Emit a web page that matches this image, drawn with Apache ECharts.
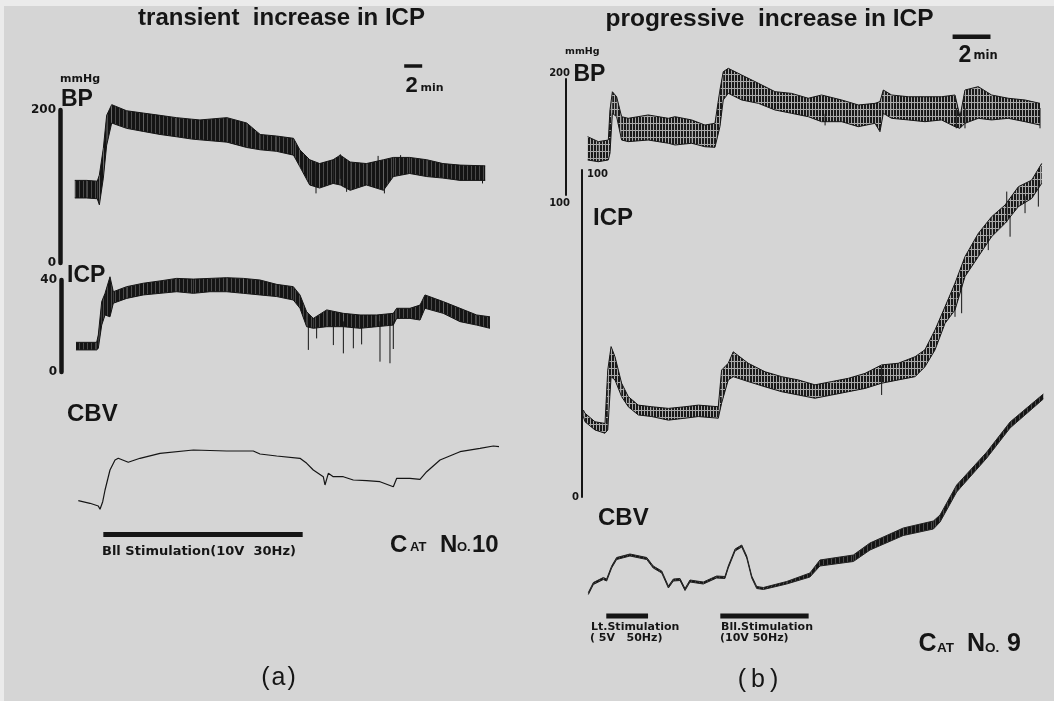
<!DOCTYPE html>
<html>
<head>
<meta charset="utf-8">
<title>transient / progressive increase in ICP</title>
<style>
    html, body {margin: 0; padding: 0; background: #d6d6d6;}
    #main {width: 1054px; height: 701px;}
</style>
<script src="https://cdn.jsdelivr.net/npm/echarts@6/dist/echarts.min.js"></script>
</head>
<body>
<div id="main"></div>
<script>
// ---------- (a) transient increase in ICP, Cat No.10  (time in min) ----------
var bpA_t  = [0.2, 1.5, 2.7, 2.93, 3.37, 3.74, 4.3, 5.96, 7.8, 9.67, 11.5, 13.2, 14.1, 17.1, 19.3, 20.8, 22.6, 24.5, 25.2, 26.3, 27.4, 28.9, 29.7, 30.8, 32.6, 34.5, 35.6, 37.4, 39.3, 41.1, 43.0, 45.8];
var bpA_hi = [108, 108, 107, 115, 150, 193, 207, 199, 196, 193, 190, 188, 187, 190, 183, 168, 166, 163, 148, 135, 130, 135, 141, 132, 130, 135, 138, 138, 135, 130, 128, 127];
var bpA_lo = [85, 85, 84, 76, 111, 154, 183, 176, 172, 168, 165, 162, 161, 158, 151, 148, 146, 141, 126, 102, 98, 104, 102, 95, 102, 95, 113, 117, 113, 111, 108, 108];
var bpA_spikes = [[27.0, 130, 91], [30.4, 132, 93], [34.6, 135, 91], [45.5, 127, 104], [29.7, 142, 110], [33.9, 140, 110], [36.4, 141, 115]];

var icpA_t  = [0.33, 2.63, 2.81, 3.19, 3.56, 4.11, 4.48, 5.96, 7.81, 9.67, 11.52, 13.37, 15.22, 17.07, 18.93, 20.78, 22.63, 24.48, 25.22, 25.96, 26.7, 28.19, 30.04, 31.89, 33.74, 35.59, 35.96, 37.44, 38.56, 39.11, 41.14, 43.0, 44.85, 46.33];
var icpA_hi = [12.9, 12.9, 16.1, 30.6, 34.2, 41.4, 34.9, 37.1, 38.6, 39.6, 40.7, 40.4, 40.7, 41, 40.7, 40, 38.1, 37.1, 33.5, 26.2, 23.3, 27, 25.5, 24.8, 24.8, 25.5, 27.7, 27.7, 29.1, 33.5, 30.6, 27.7, 24.8, 24];
var icpA_lo = [9.6, 9.6, 10.3, 20.4, 24.8, 24, 29.9, 32, 33.5, 34.2, 34.9, 34.2, 34.9, 34.9, 34.2, 33.5, 32.8, 31.3, 27.7, 19.7, 19, 19.7, 19.7, 19, 19.7, 20.4, 23.3, 23.3, 22.6, 27.7, 25.5, 21.9, 20.4, 19];
var icpA_spikes = [[26.15, 24, 9.6], [27.07, 23, 14.6], [28.93, 22, 11.7], [30.04, 22, 8.1], [31.15, 22, 10.3], [32.07, 22, 12], [34.11, 22, 4.5], [35.22, 22, 3.8], [35.59, 22, 10]];

var cbvA_t = [0.59, 1.89, 2.81, 3.0, 3.3, 3.56, 4.11, 4.67, 5.03, 6.14, 7.44, 9.67, 13.37, 17.08, 20.03, 20.78, 22.63, 25.22, 25.97, 26.7, 27.81, 28.0, 28.37, 28.92, 30.03, 31.14, 32.63, 34.11, 35.59, 35.97, 37.44, 38.56, 39.3, 40.78, 43.0, 45.22, 46.7, 47.33];
var cbvA_v = [19.3, 16.7, 14, 10.7, 18.3, 30, 50, 60, 61.7, 57.7, 61.7, 66.7, 70, 69, 69, 66, 64, 61.7, 56.7, 50, 43.3, 35, 46.7, 43.3, 43.3, 40, 39.3, 38.3, 33.3, 41.7, 41.7, 40.7, 48.3, 60, 68.3, 71.7, 74, 73.3];

var scaleA = [[36.8, 257.5], [38.8, 257.5]];          // 2 min bar, on BP axis
var stimA  = [[3.37, -14.5], [25.52, -14.5]];         // Bll stimulation, on CBV axis

// ---------- (b) progressive increase in ICP, Cat No.9 ----------
var bpB_t  = [0.25, 0.83, 1.37, 1.46, 1.59, 1.82, 2.09, 2.45, 3.53, 4.62, 4.98, 5.88, 6.6, 7.14, 7.41, 7.59, 7.86, 8.59, 9.49, 10.39, 11.29, 12.19, 12.91, 14, 14.9, 15.8, 16.07, 16.25, 16.7, 17.6, 18.5, 19.4, 20.13, 20.4, 20.67, 21.39, 22.11, 23.01, 23.92, 24.73];
var bpB_hi = [150.3, 146, 147.4, 173.3, 189, 184.7, 167.5, 166.1, 169, 166.1, 167.5, 164.7, 160.3, 161.8, 190.5, 206.3, 209.2, 203.4, 196.3, 189.1, 187.6, 183.4, 186.2, 181.9, 177.6, 179, 180.5, 190.5, 186.2, 184.7, 184.7, 184.7, 186.2, 167.5, 190.5, 193.4, 186.2, 183.4, 181.9, 179];
var bpB_lo = [130.2, 128.7, 130.2, 136, 170.4, 167.5, 147.4, 146, 147.4, 144.6, 143.1, 144.6, 141.6, 141.1, 158.9, 181.9, 187.7, 181.9, 179, 173.3, 170.4, 167.5, 163.2, 163.2, 158.9, 161.8, 154.6, 170.4, 166.1, 164.7, 163.2, 164.7, 158.9, 157.5, 161.8, 166.1, 164.7, 166.1, 163.2, 160.3];
var bpB_spikes = [[20.2, 175, 157.5], [20.67, 175, 157.5], [24.73, 175, 157.5], [13.1, 170, 160]];

var icpB_t  = [0.02, 0.11, 0.65, 1.19, 1.34, 1.52, 1.73, 2.09, 2.45, 2.99, 3.72, 4.62, 5.52, 6.24, 7.32, 7.5, 7.86, 8.13, 8.94, 9.85, 10.75, 11.65, 12.55, 13.46, 14.36, 15.26, 16.16, 17.06, 17.97, 18.5, 19.05, 19.59, 20.13, 20.67, 21.39, 22.11, 22.84, 23.56, 24.28, 24.82];
var icpB_hi = [26.6, 25.6, 23, 22.5, 38.8, 46, 42.9, 34.8, 30.7, 28.1, 27.6, 27.1, 27.6, 28.1, 27.6, 38.8, 40.9, 44.4, 40.9, 38.3, 36.8, 35.8, 34.3, 35.3, 36.3, 37.8, 40.4, 40.9, 42.9, 45, 51.1, 58.2, 65.4, 73.5, 80.6, 85.7, 89.3, 94.9, 96.9, 102];
var icpB_lo = [24.6, 23, 20.5, 19.5, 20.5, 36.8, 35.8, 30.7, 27.6, 25.1, 24.6, 23.5, 24.1, 24.6, 24.1, 28.7, 35.8, 36.8, 35.3, 33.7, 32.2, 31.2, 30.2, 31.2, 32.2, 33.2, 34.8, 35.8, 36.8, 39.8, 45, 53.1, 57.2, 67.4, 73.5, 79.6, 83.7, 88.8, 91.3, 95.9];
var icpB_spikes = [[16.16, 40, 31.2], [20.13, 62, 55.1], [20.49, 68.9, 56.2], [21.93, 80, 75.5], [22.93, 93.4, 84], [23.11, 86, 79.6], [23.92, 92, 86.8], [24.64, 97, 88.8]];

var cbvB_t  = [0.29, 0.56, 1.1, 1.28, 1.55, 1.82, 2.54, 3.45, 3.8, 4.26, 4.62, 4.89, 5.25, 5.52, 5.79, 6.51, 7.23, 7.68, 7.86, 8.23, 8.59, 8.86, 9.13, 9.4, 9.76, 11.02, 12.28, 12.82, 14.63, 15.53, 17.33, 18.96, 19.32, 20.22, 21.85, 23.11, 24.91];
var cbvB_hi = [7.5, 17.5, 22.5, 21, 34, 42.5, 46, 42.5, 34, 29, 14, 21, 21.5, 11.5, 20, 18, 24, 23.5, 34, 51, 55, 44, 24, 13.5, 12.5, 18.5, 27, 40, 45, 57, 72, 79, 85, 115, 148, 178, 206];
var cbvB_lo = [5.5, 15.5, 20.5, 19, 32, 40.5, 44, 40.5, 32, 27, 12, 19, 19.5, 9.5, 18, 16, 22, 21.5, 32, 49, 53, 42, 22, 11.5, 10.5, 16, 23, 34, 38.5, 50, 64.5, 71, 78, 108, 142, 172, 201];

var scaleB  = [[20.0, 236.5], [22.05, 236.5]];
var stimLt  = [[1.26, -16], [3.52, -16]];
var stimBll = [[7.43, -16], [12.21, -16]];


function zip2(t, v) {
    var out = [];
    for (var i = 0; i < t.length; i++) out.push([t[i], v[i]]);
    return out;
}
function zip3(t, hi, lo) {
    var out = [];
    for (var i = 0; i < t.length; i++) out.push([t[i], hi[i], lo[i]]);
    return out;
}

var ink = '#151515';
var sans = "'Liberation Sans', Arial, sans-serif";
var dejavu = "'DejaVu Sans', sans-serif";

// vertical hatch, looks like the pen strokes of a pulsatile recording
function hatch(w, h, dark, light, gapRow) {
    var c = document.createElement('canvas');
    c.width = w;
    c.height = h;
    var ctx = c.getContext('2d');
    ctx.fillStyle = light;
    ctx.fillRect(0, 0, w, h);
    ctx.fillStyle = dark;
    ctx.fillRect(0, 0, w - 1, h);
    if (gapRow) {
        ctx.fillStyle = light;
        ctx.fillRect(0, gapRow, w - 1, 1);
    }
    return {image: c, repeat: 'repeat'};
}
var denseInk = hatch(4, 8, '#141414', '#4a4a4a', 0);
var openInk = hatch(3, 7, '#1a1a1a', '#a8a8a8', 4);

// filled band between the upper and lower envelope of a trace
function band(fill, edge) {
    return function (params, api) {
        var i = params.dataIndexInside;
        if (i >= params.dataInsideLength - 1) {
            return {type: 'group', children: []};
        }
        var p1 = api.coord([api.value(0, i), api.value(1, i)]);
        var p2 = api.coord([api.value(0, i + 1), api.value(1, i + 1)]);
        var p3 = api.coord([api.value(0, i + 1), api.value(2, i + 1)]);
        var p4 = api.coord([api.value(0, i), api.value(2, i)]);
        return {
            type: 'group',
            children: [
                {type: 'polygon', shape: {points: [p1, p2, p3, p4]}, style: {fill: fill}},
                {type: 'polyline', shape: {points: [p1, p2]}, style: {stroke: edge, lineWidth: 1, fill: null}},
                {type: 'polyline', shape: {points: [p4, p3]}, style: {stroke: edge, lineWidth: 1, fill: null}}
            ]
        };
    };
}
function spike(params, api) {
    var a = api.coord([api.value(0), api.value(1)]);
    var b = api.coord([api.value(0), api.value(2)]);
    return {
        type: 'line',
        shape: {x1: a[0], y1: a[1], x2: b[0], y2: b[1]},
        style: {stroke: ink, lineWidth: 1}
    };
}

function hiddenX(grid, max) {
    return {type: 'value', gridIndex: grid, min: 0, max: max, show: false};
}
function calLabel(size, margin) {
    return {margin: margin, color: ink, fontFamily: dejavu, fontWeight: 'bold', fontSize: size};
}
function txt(x, y, text, font, align) {
    return {
        type: 'text', x: x, y: y, silent: true,
        style: {text: text, font: font, fill: ink, align: align || 'left', verticalAlign: 'middle'}
    };
}

var dom = document.getElementById("main");
var myChart = echarts.init(dom, null, {renderer: 'canvas'});
option = {
    backgroundColor: '#d5d5d5',
    animation: false,
    grid: [
        {left: 73, top: 110, width: 427.5, height: 153},    // BP (a)
        {left: 73, top: 280, width: 427.5, height: 92},     // ICP (a)
        {left: 73, top: 440, width: 427.5, height: 80},     // CBV (a)
        {left: 583, top: 79, width: 462, height: 116},      // BP (b)
        {left: 583, top: 170, width: 462, height: 327},     // ICP (b)
        {left: 583, top: 380, width: 462, height: 220}      // CBV (b)
    ],
    xAxis: [hiddenX(0, 47.5), hiddenX(1, 47.5), hiddenX(2, 47.5), hiddenX(3, 25), hiddenX(4, 25), hiddenX(5, 25)],
    yAxis: [
        {
            type: 'value', gridIndex: 0, min: 0, max: 200, interval: 200, offset: 13, position: 'left',
            axisLine: {show: true, onZero: false, lineStyle: {color: ink, width: 4.5}},
            axisTick: {show: false}, splitLine: {show: false},
            axisLabel: calLabel(12, 4)
        },
        {
            type: 'value', gridIndex: 1, min: 0, max: 40, interval: 40, offset: 12, position: 'left',
            axisLine: {show: true, onZero: false, lineStyle: {color: ink, width: 4.5}},
            axisTick: {show: false}, splitLine: {show: false},
            axisLabel: calLabel(12, 4)
        },
        {type: 'value', gridIndex: 2, min: 0, max: 80, show: false},
        {
            type: 'value', gridIndex: 3, min: 100, max: 200, interval: 100, offset: 17, position: 'left',
            axisLine: {show: true, onZero: false, lineStyle: {color: ink, width: 2}},
            axisTick: {show: false}, splitLine: {show: false},
            axisLabel: {
                margin: -4,
                formatter: function (v) { return v === 200 ? '{t|200}' : '{b|100}'; },
                rich: {
                    t: {padding: [0, 0, 12, 0], color: ink, fontFamily: dejavu, fontWeight: 'bold', fontSize: 10},
                    b: {padding: [16, 0, 0, 0], color: ink, fontFamily: dejavu, fontWeight: 'bold', fontSize: 10}
                }
            }
        },
        {
            type: 'value', gridIndex: 4, min: 0, max: 100, interval: 100, offset: 1, position: 'left',
            axisLine: {show: true, onZero: false, lineStyle: {color: ink, width: 2}},
            axisTick: {show: false}, splitLine: {show: false},
            axisLabel: {
                inside: true, margin: 5,
                formatter: function (v) { return v === 100 ? '{d|100}' : ''; },
                rich: {d: {padding: [9, 0, 0, 0], color: ink, fontFamily: dejavu, fontWeight: 'bold', fontSize: 10}}
            }
        },
        {
            type: 'value', gridIndex: 4, min: 0, max: 100, interval: 100, offset: 1, position: 'left',
            axisLine: {show: false}, axisTick: {show: false}, splitLine: {show: false},
            axisLabel: {
                margin: 3, color: ink, fontFamily: dejavu, fontWeight: 'bold', fontSize: 10,
                formatter: function (v) { return v === 0 ? '0' : ''; }
            }
        },
        {type: 'value', gridIndex: 5, min: 0, max: 220, show: false}
    ],
    graphic: [
        {type: 'rect', shape: {x: 0, y: 0, width: 1054, height: 6}, style: {fill: '#ebebeb'}, silent: true},
        {type: 'rect', shape: {x: 0, y: 0, width: 4, height: 701}, style: {fill: '#ebebeb'}, silent: true},

        txt(281.5, 18, 'transient  increase in ICP', 'bold 24px ' + sans, 'center'),
        txt(769.5, 19, 'progressive  increase in ICP', 'bold 24.5px ' + sans, 'center'),

        txt(60, 79, 'mmHg', 'bold 11px ' + dejavu),
        txt(61, 100, 'BP', 'bold 23px ' + sans),
        txt(67, 276, 'ICP', 'bold 23px ' + sans),
        txt(67, 414.5, 'CBV', 'bold 24px ' + sans),
        txt(405.5, 86, '2', 'bold 22px ' + sans),
        txt(420.5, 88.5, 'min', 'bold 11px ' + dejavu),
        txt(102, 551.5, 'Bll Stimulation(10V  30Hz)', 'bold 13px ' + dejavu),
        txt(390, 545, 'C', 'bold 24px ' + sans),
        txt(410, 547.2, 'AT', 'bold 13px ' + sans),
        txt(440, 545, 'N', 'bold 24px ' + sans),
        txt(457, 547.2, 'O.', 'bold 13px ' + sans),
        txt(472, 545, '10', 'bold 24px ' + sans),
        txt(278.5, 678.5, '(\u200aa\u200a)', '25px ' + sans, 'center'),

        txt(565, 51.5, 'mmHg', 'bold 9.5px ' + dejavu),
        txt(573.5, 74.5, 'BP', 'bold 23px ' + sans),
        txt(593, 218, 'ICP', 'bold 24px ' + sans),
        txt(598, 518, 'CBV', 'bold 24px ' + sans),
        txt(958.5, 56, '2', 'bold 23px ' + sans),
        txt(973.5, 56.5, 'min', 'bold 11.5px ' + dejavu),
        txt(591, 627.5, 'Lt.Stimulation', 'bold 11px ' + dejavu),
        txt(590, 638.5, '( 5V   50Hz)', 'bold 11px ' + dejavu),
        txt(721, 627.5, 'Bll.Stimulation', 'bold 11px ' + dejavu),
        txt(720, 638.5, '(10V 50Hz)', 'bold 11px ' + dejavu),
        txt(918.5, 644, 'C', 'bold 25px ' + sans),
        txt(937, 648, 'AT', 'bold 13.5px ' + sans),
        txt(967, 644, 'N', 'bold 25px ' + sans),
        txt(985, 648, 'O.', 'bold 13.5px ' + sans),
        txt(1007, 644, '9', 'bold 25px ' + sans),
        txt(758, 680, '(\u2009b\u2009)', '25px ' + sans, 'center')
    ],
    series: [
        {name: 'BP a', type: 'custom', xAxisIndex: 0, yAxisIndex: 0, renderItem: band(denseInk, ink), encode: {x: 0, y: [1, 2]}, data: zip3(bpA_t, bpA_hi, bpA_lo), silent: true},
        {name: 'BP a spikes', type: 'custom', xAxisIndex: 0, yAxisIndex: 0, renderItem: spike, encode: {x: 0, y: [1, 2]}, data: bpA_spikes, silent: true},
        {name: 'ICP a', type: 'custom', xAxisIndex: 1, yAxisIndex: 1, renderItem: band(denseInk, ink), encode: {x: 0, y: [1, 2]}, data: zip3(icpA_t, icpA_hi, icpA_lo), silent: true},
        {name: 'ICP a spikes', type: 'custom', xAxisIndex: 1, yAxisIndex: 1, renderItem: spike, encode: {x: 0, y: [1, 2]}, data: icpA_spikes, silent: true},
        {
            name: 'CBV a', type: 'line', xAxisIndex: 2, yAxisIndex: 2, data: zip2(cbvA_t, cbvA_v),
            symbol: 'none', clip: false, lineStyle: {color: ink, width: 1.2}, silent: true
        },
        {
            name: '2 min a', type: 'line', xAxisIndex: 0, yAxisIndex: 0, data: scaleA,
            symbol: 'none', clip: false, lineStyle: {color: ink, width: 3.5}, silent: true
        },
        {
            name: 'Bll stim a', type: 'line', xAxisIndex: 2, yAxisIndex: 2, data: stimA,
            symbol: 'none', clip: false, lineStyle: {color: ink, width: 5}, silent: true
        },

        {name: 'BP b', type: 'custom', xAxisIndex: 3, yAxisIndex: 3, renderItem: band(openInk, ink), encode: {x: 0, y: [1, 2]}, data: zip3(bpB_t, bpB_hi, bpB_lo), silent: true},
        {name: 'BP b spikes', type: 'custom', xAxisIndex: 3, yAxisIndex: 3, renderItem: spike, encode: {x: 0, y: [1, 2]}, data: bpB_spikes, silent: true},
        {name: 'ICP b', type: 'custom', xAxisIndex: 4, yAxisIndex: 4, renderItem: band(openInk, ink), encode: {x: 0, y: [1, 2]}, data: zip3(icpB_t, icpB_hi, icpB_lo), silent: true},
        {name: 'ICP b spikes', type: 'custom', xAxisIndex: 4, yAxisIndex: 4, renderItem: spike, encode: {x: 0, y: [1, 2]}, data: icpB_spikes, silent: true},
        {name: 'CBV b', type: 'custom', xAxisIndex: 5, yAxisIndex: 6, renderItem: band(denseInk, '#222'), encode: {x: 0, y: [1, 2]}, data: zip3(cbvB_t, cbvB_hi, cbvB_lo), silent: true},
        {
            name: '2 min b', type: 'line', xAxisIndex: 3, yAxisIndex: 3, data: scaleB,
            symbol: 'none', clip: false, lineStyle: {color: ink, width: 4.5}, silent: true
        },
        {
            name: 'Lt stim b', type: 'line', xAxisIndex: 5, yAxisIndex: 6, data: stimLt,
            symbol: 'none', clip: false, lineStyle: {color: ink, width: 5}, silent: true
        },
        {
            name: 'Bll stim b', type: 'line', xAxisIndex: 5, yAxisIndex: 6, data: stimBll,
            symbol: 'none', clip: false, lineStyle: {color: ink, width: 5}, silent: true
        }
    ]
};
if (option && typeof option === "object") {
    myChart.setOption(option, true);
}
</script>
</body>
</html>
